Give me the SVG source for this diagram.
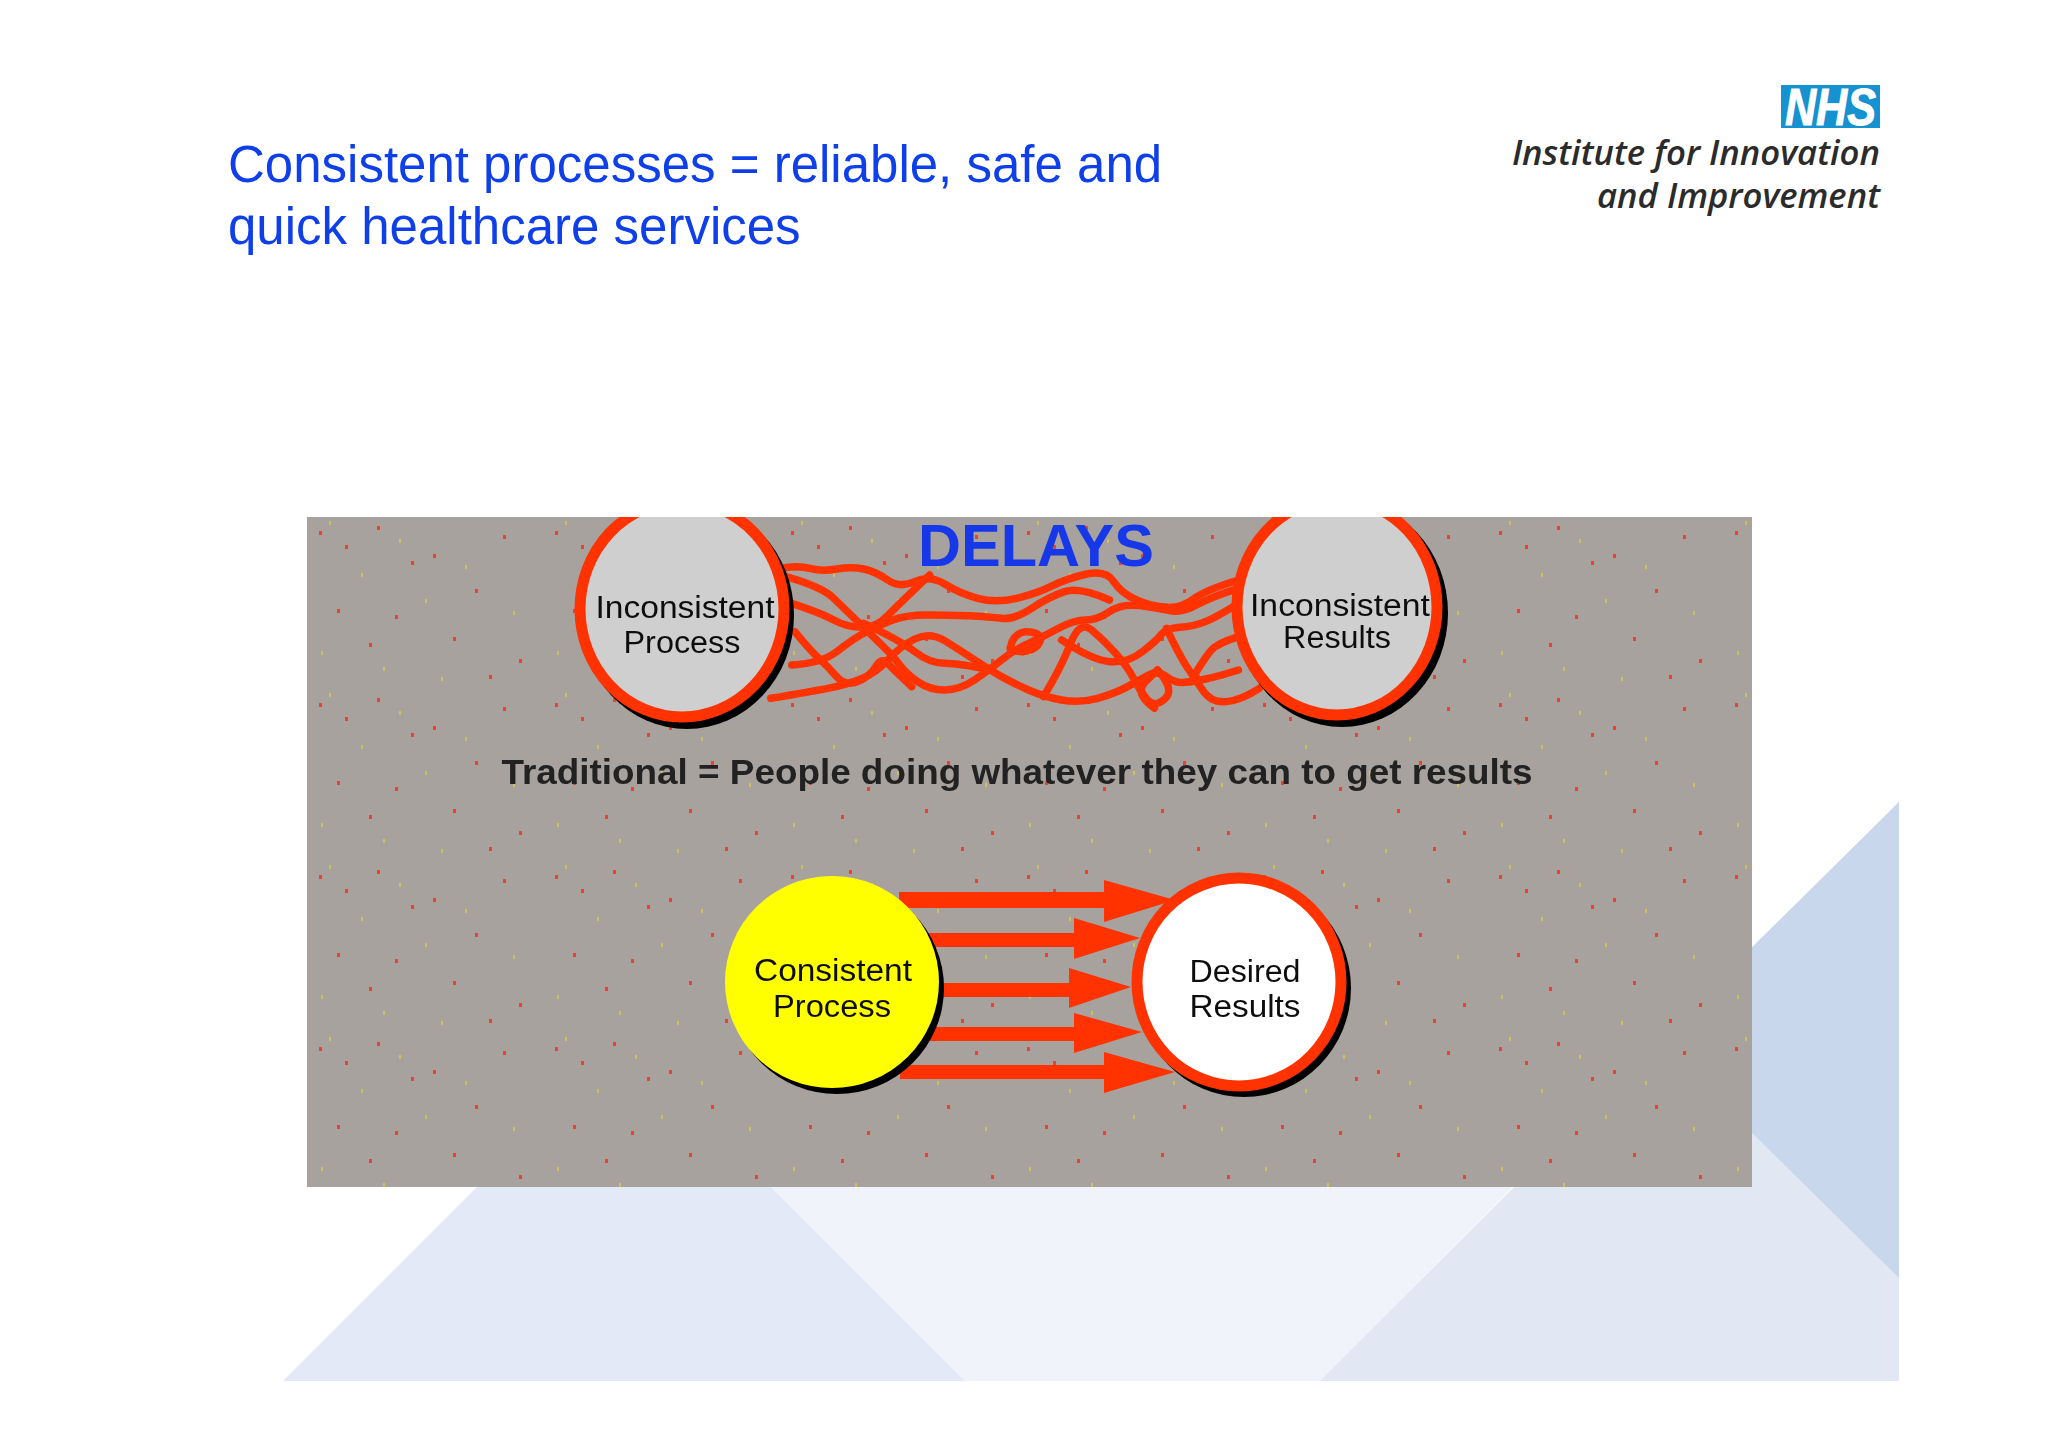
<svg xmlns="http://www.w3.org/2000/svg" width="2048" height="1447" viewBox="0 0 2048 1447">
<style>
.sans{font-family:"Liberation Sans",Arial,sans-serif}
.title{font-size:51px;fill:#0f3fe8}
.logo{font-family:"Open Sans","Noto Sans",sans-serif;font-size:34.7px;font-weight:600;font-style:italic;fill:#2b2b2b;text-anchor:end}
.lbl{font-family:"Liberation Sans",Arial,sans-serif;font-size:31px;fill:#111;text-anchor:middle}
.ring{stroke:#ff3300;stroke-width:11}
.shadow{fill:#000}
.arrow{fill:#ff3300}
.tangle{fill:none;stroke:#ff3300;stroke-width:7.5;stroke-linejoin:round;stroke-linecap:round;vector-effect:non-scaling-stroke}
</style>
<defs>
<clipPath id="panel-clip"><rect x="307" y="517" width="1445" height="670"/></clipPath>
<filter id="soft" x="-2%" y="-2%" width="104%" height="104%"><feGaussianBlur stdDeviation="0.7"/></filter>
<pattern id="specks" x="307" y="517" width="236" height="172" patternUnits="userSpaceOnUse">
<g fill="#f0402a">
<rect x="12" y="14" width="3" height="4"/><rect x="38" y="28" width="3" height="4"/><rect x="70" y="9" width="3" height="4"/><rect x="104" y="44" width="3" height="4"/><rect x="126" y="37" width="3" height="4"/><rect x="168" y="72" width="3" height="4"/><rect x="30" y="92" width="3" height="4"/><rect x="62" y="126" width="3" height="4"/><rect x="88" y="98" width="3" height="4"/><rect x="146" y="120" width="3" height="4"/><rect x="196" y="18" width="3" height="4"/><rect x="212" y="142" width="3" height="4"/><rect x="182" y="158" width="3" height="4"/>
</g>
<g fill="#cfc05a">
<rect x="22" y="4" width="2" height="4"/><rect x="54" y="56" width="2" height="4"/><rect x="92" y="22" width="2" height="4"/><rect x="118" y="82" width="2" height="4"/><rect x="158" y="48" width="2" height="4"/><rect x="14" y="134" width="2" height="4"/><rect x="76" y="150" width="2" height="4"/><rect x="134" y="160" width="2" height="4"/><rect x="206" y="94" width="2" height="4"/>
</g>
</pattern>
</defs>
<rect width="2048" height="1447" fill="#ffffff"/>
<g id="background">
<polygon points="624,1040 1658,1040 1321,1381 965,1381" fill="#f1f3fb"/>
<polygon points="283,1381 624,1040 965,1381" fill="#e3e9f6"/>
<polygon points="1320,1381 1899,802 1899,1381" fill="#e1e8f4"/>
<polygon points="1899,802 1658,1040 1899,1278" fill="#c9d7ed"/>
</g>
<g id="header">
<text class="sans title" x="228" y="182">Consistent processes = reliable, safe and</text>
<text class="sans title" x="228" y="244">quick healthcare services</text>
</g>
<g id="logo">
<rect x="1781" y="85" width="99" height="43" fill="#1592cf"/>
<text class="sans" x="1785" y="125" font-size="51" font-weight="700" font-style="italic" fill="#fff" stroke="#fff" stroke-width="1" textLength="91" lengthAdjust="spacingAndGlyphs">NHS</text>
<text class="logo" x="1880" y="165">Institute for Innovation</text>
<text class="logo" x="1880" y="208">and Improvement</text>
</g>
<g id="panel" clip-path="url(#panel-clip)">
<g filter="url(#soft)">
<g id="panel-bg">
<rect x="300" y="510" width="1460" height="685" fill="#a8a29e"/>
<rect x="307" y="517" width="1445" height="670" fill="url(#specks)"/>
</g>
<g id="connectors">
<g transform="translate(540,500) scale(0.5995,0.3333)">
<path class="tangle" d="M400,205 Q430,195 450,205 Q470,215 495,207 Q520,200 540,207 Q560,215 580,240 Q600,265 625,245 Q650,225 675,252 Q700,280 730,295 Q760,310 795,295 Q830,280 855,257 Q880,235 912,222 Q945,210 957,245 Q970,280 995,300 Q1020,320 1045,322 Q1070,325 1090,297 Q1110,270 1165,240"/>
<path class="tangle" d="M410,230 Q470,260 490,295 Q510,330 530,365 Q550,400 570,435 Q590,470 600,495 Q610,520 630,545 Q650,570 675,570 Q700,570 725,540 Q750,510 770,480 Q790,450 815,430 Q840,410 865,385 Q890,360 910,360 Q930,360 950,335 Q970,310 1000,317 Q1030,325 1050,332 Q1070,340 1095,315 Q1120,290 1165,265"/>
<path class="tangle" d="M420,310 Q470,340 490,360 Q510,380 535,382 Q560,385 580,347 Q600,310 650,225"/>
<path class="tangle" d="M425,395 Q450,450 465,475 Q480,500 495,530 Q510,560 530,545 Q550,530 560,500 Q570,470 580,490 Q590,510 620,560"/>
<path class="tangle" d="M420,495 Q470,490 495,455 Q520,420 540,400 Q560,380 585,362 Q610,345 645,345 Q680,345 715,347 Q750,350 770,355 Q790,360 820,325 Q850,290 875,275 Q900,260 950,300"/>
<path class="tangle" d="M385,595 Q450,575 480,565 Q510,555 535,537 Q560,520 580,480 Q600,440 625,417 Q650,395 675,422 Q700,450 725,480 Q750,510 770,530 Q790,550 815,570 Q840,590 870,600 Q900,610 930,595 Q960,580 980,560 Q1000,540 1015,525 Q1030,510 1045,530 Q1060,550 1075,547 Q1090,545 1110,537 Q1130,530 1165,510"/>
<path class="tangle" d="M840,590 Q870,500 885,430 Q900,360 920,390 Q940,420 960,460 Q980,500 990,535 Q1000,570 1012,597 Q1025,625 1042,597 Q1060,570 1030,510"/>
<path class="tangle" d="M1025,625 Q990,580 1010,545 L1030,510"/>
<path class="tangle" d="M1045,385 Q1065,460 1077,495 Q1090,530 1105,570 Q1120,610 1145,605 Q1170,600 1200,565"/>
<path class="tangle" d="M1090,530 Q1110,470 1120,450 Q1130,430 1165,410"/>
<path class="tangle" d="M785,440 Q790,400 810,395 Q835,395 835,420 Q830,450 805,455 Q780,455 785,440"/>
<path class="tangle" d="M870,420 Q920,480 950,485 Q980,490 1005,455 Q1030,420 1037,402 Q1045,385 1067,382 Q1090,380 1110,365 Q1130,350 1165,310"/>
<path class="tangle" d="M540,370 Q600,420 625,455 Q650,490 675,490 Q700,490 750,510"/>
</g>
</g>
<g id="inconsistent-process">
<ellipse class="shadow" cx="687" cy="615" rx="107" ry="114"/>
<ellipse class="ring" cx="682" cy="609" rx="102" ry="108" fill="#cfcfcf"/>
<text class="lbl" x="685" y="618" textLength="179" lengthAdjust="spacingAndGlyphs">Inconsistent</text>
<text class="lbl" x="682" y="653" textLength="117" lengthAdjust="spacingAndGlyphs">Process</text>
</g>
<g id="inconsistent-results">
<ellipse class="shadow" cx="1342" cy="613" rx="106" ry="114"/>
<ellipse class="ring" cx="1337" cy="607" rx="100" ry="108" fill="#cfcfcf"/>
<text class="lbl" x="1340" y="616" textLength="180" lengthAdjust="spacingAndGlyphs">Inconsistent</text>
<text class="lbl" x="1337" y="648" textLength="108" lengthAdjust="spacingAndGlyphs">Results</text>
</g>
<g id="delays"><text class="sans" x="1036" y="566" font-size="59.5" font-weight="700" fill="#1238e8" text-anchor="middle">DELAYS</text></g>
<g id="caption"><text class="sans" x="1017" y="784" font-size="35" font-weight="700" fill="#222" text-anchor="middle" textLength="1031" lengthAdjust="spacingAndGlyphs">Traditional = People doing whatever they can to get results</text></g>
<g id="arrows">
<polygon class="arrow" points="899,892 1104,892 1104,880 1175,900 1104,922 1104,908 899,908"/>
<polygon class="arrow" points="925,933 1074,933 1074,918 1140,938 1074,959 1074,947 925,947"/>
<polygon class="arrow" points="930,983 1069,983 1069,968 1131,987 1069,1008 1069,997 930,997"/>
<polygon class="arrow" points="925,1027 1074,1027 1074,1013 1142,1032 1074,1053 1074,1041 925,1041"/>
<polygon class="arrow" points="900,1065 1104,1065 1104,1052 1175,1072 1104,1093 1104,1079 900,1079"/>
</g>
<g id="consistent-process">
<ellipse class="shadow" cx="837" cy="988" rx="107" ry="106"/>
<ellipse cx="832" cy="982" rx="107" ry="106" fill="#ffff00"/>
<text class="lbl" x="833" y="981" textLength="158" lengthAdjust="spacingAndGlyphs">Consistent</text>
<text class="lbl" x="832" y="1017" textLength="118" lengthAdjust="spacingAndGlyphs">Process</text>
</g>
<g id="desired-results">
<ellipse class="shadow" cx="1244" cy="988" rx="107" ry="109"/>
<ellipse class="ring" cx="1239" cy="982" rx="102" ry="104" fill="#fff"/>
<text class="lbl" x="1245" y="982" textLength="111" lengthAdjust="spacingAndGlyphs">Desired</text>
<text class="lbl" x="1245" y="1017" textLength="111" lengthAdjust="spacingAndGlyphs">Results</text>
</g>
</g>
</g>
</svg>
